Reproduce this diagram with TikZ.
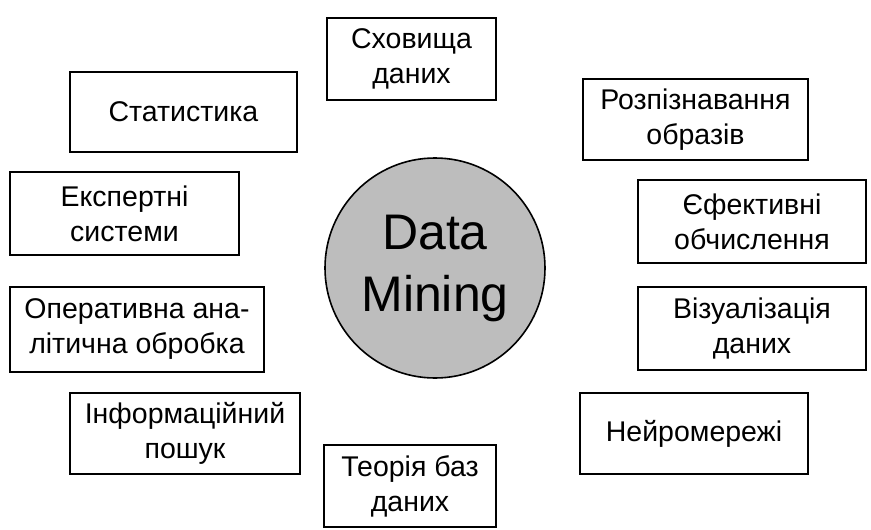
\documentclass[tikz,border=0pt]{standalone}
\usepackage{fontspec}
\setmainfont{Liberation Sans}
\begin{document}
\begin{tikzpicture}[x=1pt,y=-1pt,
  box/.style={draw=black,line width=2.2pt,fill=white,inner sep=0pt,align=center,font=\fontsize{28.5}{35}\selectfont},
  hub/.style={circle,draw=black,line width=1.6pt,fill=black!26,inner sep=0pt,minimum size=220pt,align=center,font=\fontsize{50}{62}\selectfont}]
\useasboundingbox (0,0) rectangle (871,530);
\node[hub] (dm) at (435,268) {Data\\Mining};
\node[box,minimum width=169pt,minimum height=82pt] (sd) at (411.5,59) {Сховища\\даних};
\node[box,minimum width=227pt,minimum height=80pt] (st) at (183.5,112) {Статистика};
\node[box,minimum width=225pt,minimum height=81pt] (ro) at (695.5,119.5) {Розпізнавання\\образів};
\node[box,minimum width=229pt,minimum height=83pt] (es) at (124.5,213.5) {Експертні\\системи};
\node[box,minimum width=228pt,minimum height=83pt] (eo) at (752,221.5) {Єфективні\\обчислення};
\node[box,minimum width=254pt,minimum height=85pt] (oa) at (137,329.5) {Оперативна ана-\\літична обробка};
\node[box,minimum width=228pt,minimum height=83pt] (vd) at (752,328.5) {Візуалізація\\даних};
\node[box,minimum width=230pt,minimum height=81pt] (ip) at (185,433.5) {Інформаційний\\пошук};
\node[box,minimum width=228pt,minimum height=81pt] (nm) at (694,433.5) {Нейромережі};
\node[box,minimum width=172pt,minimum height=82pt] (tb) at (410,486) {Теорія баз\\даних};
\end{tikzpicture}
\end{document}
